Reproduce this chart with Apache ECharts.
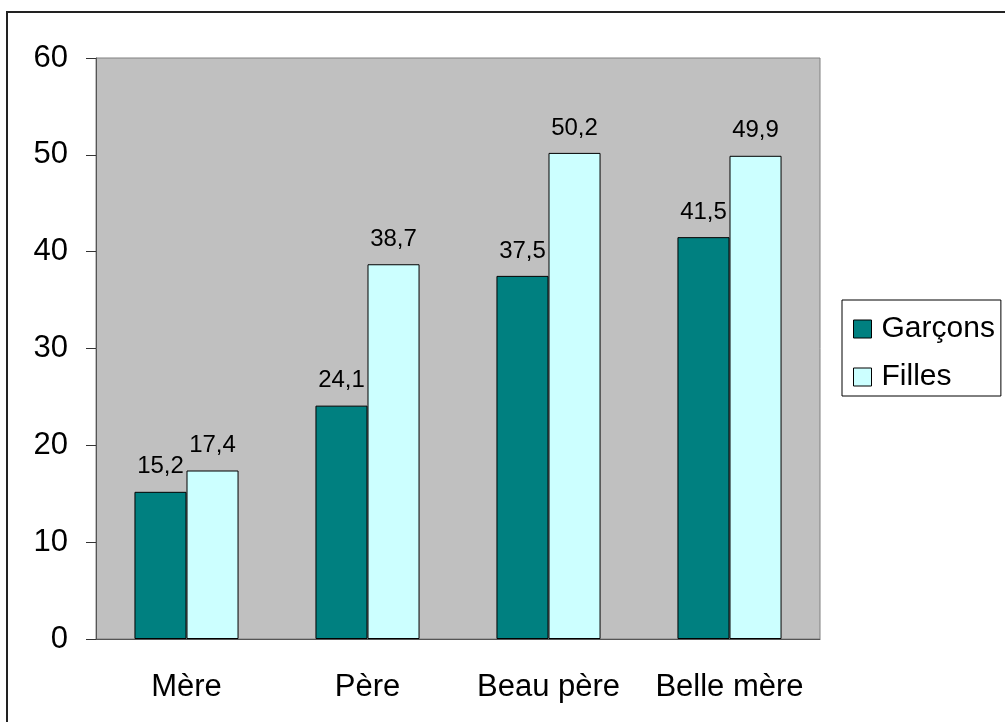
<!DOCTYPE html>
<html>
<head>
<meta charset="utf-8">
<script src="https://cdn.jsdelivr.net/npm/echarts@6/dist/echarts.min.js"></script>
<style>
  html, body { margin: 0; padding: 0; background: #fff; }
  #bar-chart { width: 1005px; height: 722px; }
</style>
</head>
<body>
<div id="bar-chart"></div>
<script>
// data
const categories = ['Mère', 'Père', 'Beau père', 'Belle mère']
const seriesNames = ['Garçons', 'Filles']
const garcons = [15.2, 24.1, 37.5, 41.5]
const filles = [17.4, 38.7, 50.2, 49.9]
const colors = ['#008080', '#ccffff']

const font = 'Liberation Sans, Arial, sans-serif'

// 15.2 -> "15,2"
function frNumber(params) {
  return params.value.toFixed(1).replace('.', ',')
}

function makeSeries(name, data, color) {
  return {
    name: name,
    type: 'bar',
    data: data,
    barGap: '0%',
    barCategoryGap: '42.5%',
    itemStyle: {
      color: color,
      borderColor: '#000',
      borderWidth: 1
    },
    label: {
      show: true,
      position: 'top',
      distance: 13,
      color: '#000',
      fontFamily: font,
      fontSize: 24,
      formatter: frNumber
    },
    emphasis: { disabled: true }
  }
}

const chart = echarts.init(document.getElementById('bar-chart'))
chart.setOption({
  animation: false,
  color: colors,
  textStyle: { fontFamily: font },
  graphic: [
    {
      type: 'rect',
      z: -10,
      silent: true,
      shape: { x: 7, y: 12, width: 1200, height: 900 },
      style: { fill: 'none', stroke: '#222', lineWidth: 2 }
    }
  ],
  grid: {
    left: 96,
    top: 58,
    right: 185,
    bottom: 83,
    show: true,
    backgroundColor: '#c0c0c0',
    borderColor: '#808080',
    borderWidth: 1
  },
  legend: {
    orient: 'vertical',
    left: 842,
    top: 300,
    padding: [14, 6, 4, 11],
    itemGap: 18,
    itemWidth: 18,
    itemHeight: 18,
    icon: 'rect',
    borderColor: '#000',
    borderWidth: 1,
    itemStyle: { borderColor: '#000', borderWidth: 1 },
    textStyle: {
      color: '#000',
      fontFamily: font,
      fontSize: 30,
      lineHeight: 30,
      padding: [0, 0, 0, 5]
    },
    data: seriesNames
  },
  xAxis: {
    type: 'category',
    data: categories,
    axisLine: { lineStyle: { color: '#555', width: 1 } },
    axisTick: { length: 9, lineStyle: { color: '#555' } },
    axisLabel: {
      interval: 0,
      color: '#000',
      fontFamily: font,
      fontSize: 31,
      margin: 33
    }
  },
  yAxis: {
    type: 'value',
    min: 0,
    max: 60,
    interval: 10,
    splitLine: { show: false },
    axisLine: { show: true, lineStyle: { color: '#555', width: 1 } },
    axisTick: { show: true, length: 10, lineStyle: { color: '#333' } },
    axisLabel: {
      color: '#000',
      fontFamily: font,
      fontSize: 31,
      margin: 28
    }
  },
  series: [
    makeSeries(seriesNames[0], garcons, colors[0]),
    makeSeries(seriesNames[1], filles, colors[1])
  ]
})
</script>
</body>
</html>
